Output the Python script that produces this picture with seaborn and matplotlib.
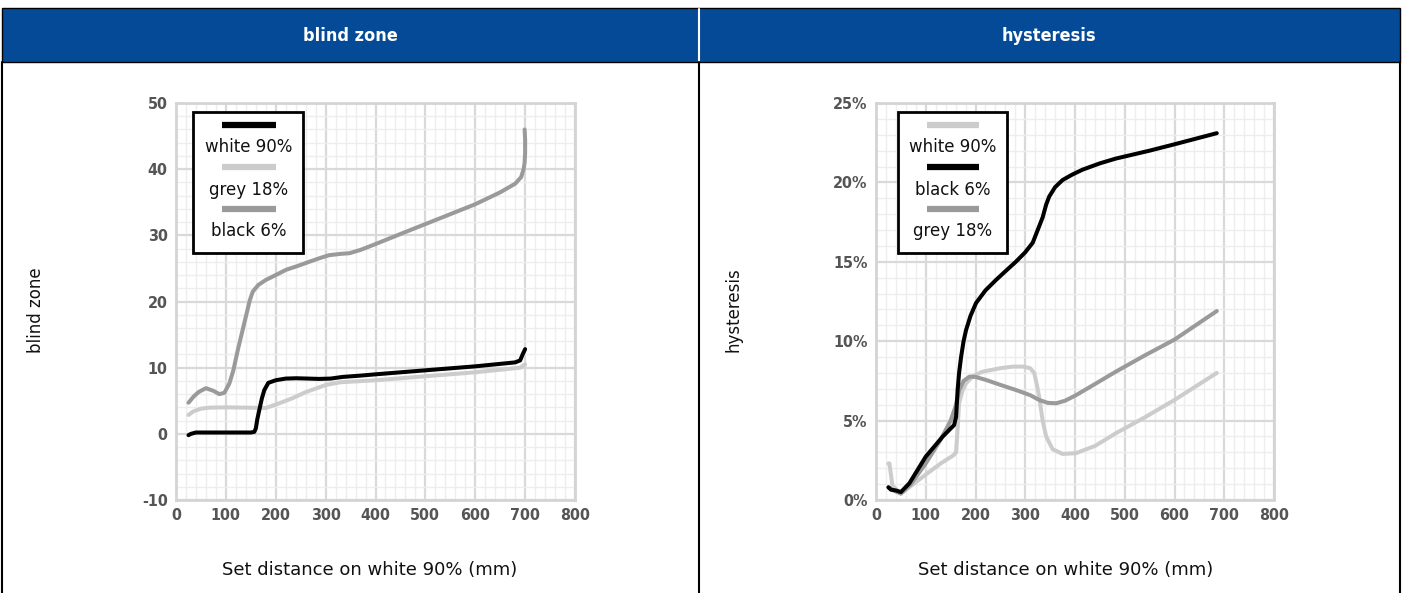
import numpy as np
import pandas as pd
import seaborn as sns
import matplotlib
matplotlib.use("Agg")
import matplotlib.pyplot as plt
from matplotlib.ticker import MultipleLocator, FuncFormatter
from matplotlib.patches import Rectangle
from matplotlib.lines import Line2D

# ---------------- data ----------------
# blind zone panel
bz_white_x = [25, 30, 40, 60, 100, 150, 157, 160, 163, 167, 172, 177, 185, 200, 220, 241, 265, 287, 310, 334, 370, 401, 500, 600, 680, 690, 695, 700]
bz_white_y = [-0.2, 0.0, 0.2, 0.2, 0.2, 0.2, 0.3, 0.8, 2.2, 3.6, 5.3, 6.6, 7.7, 8.1, 8.35, 8.4, 8.35, 8.3, 8.35, 8.6, 8.8, 9.0, 9.6, 10.2, 10.8, 11.1, 12.0, 12.8]

bz_grey_x = [25, 35, 50, 67, 100, 150, 180, 195, 210, 234, 260, 301, 330, 401, 500, 600, 690, 700]
bz_grey_y = [2.85, 3.4, 3.8, 3.96, 4.0, 3.95, 3.9, 4.3, 4.7, 5.4, 6.3, 7.4, 7.8, 8.1, 8.7, 9.3, 10.0, 10.5]

bz_black_x = [25, 35, 45, 60, 75, 87, 97, 107, 115, 124, 132, 140, 148, 154, 165, 180, 200, 221, 245, 267, 290, 307, 330, 348, 370, 394, 450, 500, 550, 600, 650, 680, 692, 697, 699, 700, 700, 699]
bz_black_y = [4.7, 5.6, 6.3, 6.9, 6.5, 6.0, 6.2, 7.6, 9.6, 12.7, 15.2, 17.7, 20.2, 21.5, 22.5, 23.25, 24.0, 24.8, 25.4, 26.0, 26.6, 27.0, 27.2, 27.3, 27.8, 28.5, 30.2, 31.7, 33.2, 34.7, 36.5, 37.8, 38.8, 40.0, 41.0, 42.5, 44.5, 46.0]

# hysteresis panel (%)
hy_white_x = [25, 27, 33, 50, 75, 100, 130, 155, 161, 164, 167, 174, 181, 195, 214, 250, 275, 295, 310, 318, 323, 328, 335, 342, 355, 375, 402, 440, 482, 540, 600, 685]
hy_white_y = [2.3, 2.3, 0.9, 0.4, 1.0, 1.6, 2.3, 2.8, 3.0, 4.5, 6.1, 6.9, 7.35, 7.8, 8.08, 8.3, 8.4, 8.4, 8.3, 8.0, 7.3, 6.5, 5.0, 4.0, 3.2, 2.9, 2.95, 3.4, 4.2, 5.2, 6.3, 8.0]

hy_black_x = [25, 30, 40, 50, 67, 100, 134, 150, 157, 161, 164, 167, 171, 176, 181, 190, 201, 220, 241, 260, 281, 300, 315, 325, 335, 342, 348, 360, 375, 395, 415, 450, 482, 550, 600, 685]
hy_black_y = [0.8, 0.65, 0.6, 0.5, 1.05, 2.73, 3.99, 4.5, 4.72, 5.25, 6.9, 8.0, 9.0, 10.0, 10.7, 11.6, 12.4, 13.2, 13.85, 14.4, 15.0, 15.6, 16.2, 17.0, 17.8, 18.6, 19.1, 19.7, 20.15, 20.5, 20.8, 21.2, 21.5, 22.0, 22.4, 23.1]

hy_grey_x = [25, 35, 50, 70, 100, 130, 150, 160, 167, 176, 188, 200, 221, 250, 281, 310, 328, 345, 362, 380, 402, 440, 482, 540, 600, 685]
hy_grey_y = [0.8, 0.6, 0.4, 1.0, 2.3, 3.8, 5.0, 5.9, 6.9, 7.5, 7.77, 7.75, 7.56, 7.25, 6.93, 6.6, 6.3, 6.12, 6.09, 6.25, 6.6, 7.3, 8.08, 9.1, 10.1, 11.9]

titles = ["blind zone", "hysteresis"]
xlabel = "Set distance on white 90% (mm)"

C_BLACK = "#000000"
C_LIGHT = "#cccccc"
C_MID = "#9a9a9a"
BLUE = "#054a96"

sns.set_theme(style="white")
plt.rcParams['font.family'] = ['DejaVu Sans']
plt.rcParams['axes.unicode_minus'] = False

fig = plt.figure(figsize=(14.04, 5.93), dpi=100)

ax1 = fig.add_axes([176/1404, 1-500/593, 399/1404, 397/593])
ax2 = fig.add_axes([876/1404, 1-500/593, 398/1404, 397/593])

LW = 2.9

def draw(ax, x, y, color, z):
    sns.lineplot(x=x, y=y, ax=ax, color=color, lw=LW, estimator=None, sort=False,
                 zorder=z, solid_capstyle="round", solid_joinstyle="round")

draw(ax1, bz_grey_x, bz_grey_y, C_LIGHT, 3)
draw(ax1, bz_black_x, bz_black_y, C_MID, 3)
draw(ax1, bz_white_x, bz_white_y, C_BLACK, 4)

draw(ax2, hy_white_x, hy_white_y, C_LIGHT, 3)
draw(ax2, hy_grey_x, hy_grey_y, C_MID, 4)
draw(ax2, hy_black_x, hy_black_y, C_BLACK, 5)

def style(ax, ylim, ymaj, ymin, pct):
    ax.set_xlim(0, 800)
    ax.set_ylim(*ylim)
    ax.xaxis.set_major_locator(MultipleLocator(100))
    ax.xaxis.set_minor_locator(MultipleLocator(20))
    ax.yaxis.set_major_locator(MultipleLocator(ymaj))
    ax.yaxis.set_minor_locator(MultipleLocator(ymin))
    ax.grid(which='major', color='#d9d9d9', lw=1.6, zorder=1)
    ax.grid(which='minor', color='#eeeeee', lw=1.0, zorder=0)
    ax.set_axisbelow(True)
    for s in ax.spines.values():
        s.set_color('#d4d4d4')
        s.set_linewidth(2)
    ax.tick_params(which='both', length=0, pad=6, colors='#555555')
    if pct:
        ax.yaxis.set_major_formatter(FuncFormatter(lambda v, p: f"{v:.0f}%"))
    for lab in ax.get_xticklabels() + ax.get_yticklabels():
        lab.set_fontfamily('DejaVu Sans')
        lab.set_fontstretch('condensed')
        lab.set_fontweight('bold')
        lab.set_fontsize(11.5)
    ax.set_xlabel("")
    ax.set_ylabel("")

style(ax1, (-10, 50), 10, 2, False)
style(ax2, (0, 25), 5, 1, True)

# axis labels
fig.text(370/1404, 1-570/593, xlabel, ha='center', va='center', fontsize=13, color='#111111')
fig.text(1066/1404, 1-570/593, xlabel, ha='center', va='center', fontsize=13, color='#111111')
fig.text(36/1404, 1-310/593, titles[0], ha='center', va='center', rotation=90, fontsize=12, color='#111111')
fig.text(733/1404, 1-310/593, titles[1], ha='center', va='center', rotation=90, fontsize=12, color='#111111')

# custom legends (handle above text)
def legend(ax, x0, x1, lx0, lx1, entries):
    ax.add_patch(Rectangle((x0, 0.622), x1 - x0, 0.977 - 0.622, transform=ax.transAxes,
                           facecolor='white', edgecolor='black', lw=2, zorder=10))
    ly = [0.945, 0.838, 0.733]
    ty = [0.888, 0.782, 0.677]
    cx = (lx0 + lx1) / 2
    for (lab, col), yl, yt in zip(entries, ly, ty):
        ax.add_line(Line2D([lx0, lx1], [yl, yl], transform=ax.transAxes, color=col, lw=4.5,
                           solid_capstyle='butt', zorder=11))
        ax.text(cx, yt, lab, transform=ax.transAxes, ha='center', va='center', fontsize=12,
                color='#111111', zorder=11)

legend(ax1, 0.043, 0.318, 0.115, 0.25,
       [("white 90%", C_BLACK), ("grey 18%", C_LIGHT), ("black 6%", C_MID)])
legend(ax2, 0.055, 0.328, 0.128, 0.259,
       [("white 90%", C_LIGHT), ("black 6%", C_BLACK), ("grey 18%", C_MID)])

# header band and frame
fig.patches.append(Rectangle((2/1404, 1-62/593), 1398/1404, 54/593, transform=fig.transFigure,
                             facecolor=BLUE, edgecolor='black', lw=1, zorder=0))
fig.lines.append(Line2D([699/1404, 699/1404], [1-61/593, 1-9/593], transform=fig.transFigure,
                        color='white', lw=1.5))
for xp in [2, 699, 1400]:
    fig.lines.append(Line2D([xp/1404, xp/1404], [0, 1-62/593], transform=fig.transFigure,
                            color='black', lw=1.5))
for xc, t in [(350, titles[0]), (1049, titles[1])]:
    fig.text(xc/1404, 1-36/593, t, ha='center', va='center', fontsize=13, fontweight='bold',
             fontstretch='condensed', color='white', family='DejaVu Sans')

fig.savefig("out.png", dpi=100, facecolor='white')
